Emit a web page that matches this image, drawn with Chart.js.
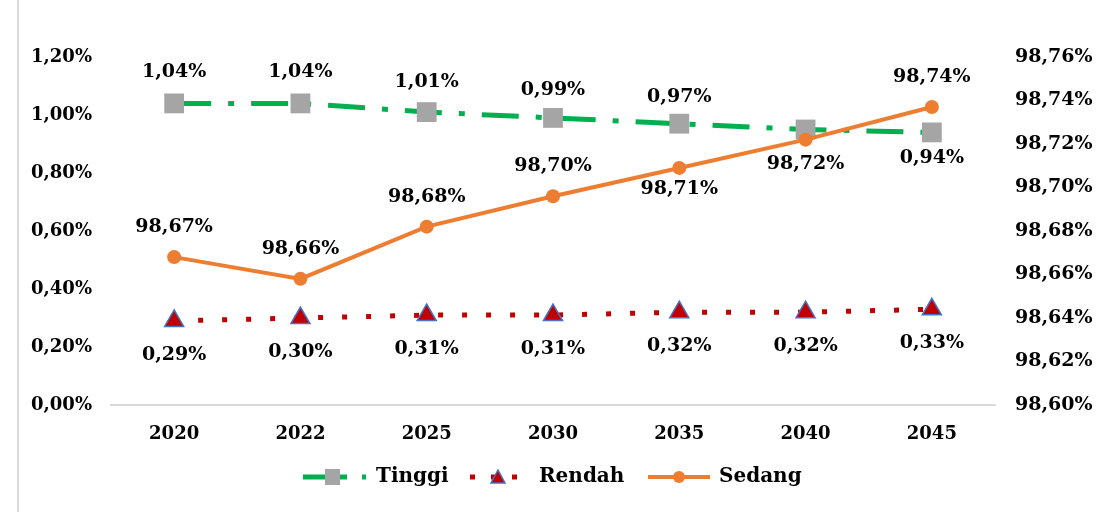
<!DOCTYPE html>
<html>
<head>
<meta charset="utf-8">
<script src="https://cdn.jsdelivr.net/npm/chart.js@4.4.1/dist/chart.umd.min.js"></script>
<style>
  html, body { margin: 0; padding: 0; background: #fff; }
  #wrap { position: relative; width: 1104px; height: 512px; }
  #wrap:before { content: ""; position: absolute; left: 17px; top: 0; bottom: 0; border-left: 2px solid #d9d9d9; }
</style>
</head>
<body>
<div id="wrap"><canvas id="grafik" width="1104" height="512"></canvas></div>
<script>
var TAHUN = ['2020', '2022', '2025', '2030', '2035', '2040', '2045'];
var TINGGI = [1.04, 1.04, 1.01, 0.99, 0.97, 0.95, 0.94];
var RENDAH = [0.29, 0.30, 0.31, 0.31, 0.32, 0.32, 0.33];
var SEDANG = [98.668, 98.658, 98.682, 98.696, 98.709, 98.722, 98.737];
var LABEL_TINGGI = ['1,04%', '1,04%', '1,01%', '0,99%', '0,97%', '', '0,94%'];
var LABEL_RENDAH = ['0,29%', '0,30%', '0,31%', '0,31%', '0,32%', '0,32%', '0,33%'];
var LABEL_SEDANG = ['98,67%', '98,66%', '98,68%', '98,70%', '98,71%', '98,72%', '98,74%'];
var TICK_KIRI = [0, 1.2, 0.2];
var TICK_KANAN = [98.60, 98.76, 0.02];

var Warna = { hijau: '#00b050', abu: '#a5a5a5', merah: '#c00000', biru: '#4472c4', oranye: '#ed7d31' };
var FONT = '"DejaVu Serif", Georgia, serif';

// jarak label dari titik: positif = di atas, negatif = di bawah
var posisi = {
    0: [31, 31, 30, 28, 27, 0, -26],
    1: [-34, -34, -34, -34, -34, -34, -34],
    2: [30, 30, 30, 30, -21, -24, 30]
};
var teks = { 0: LABEL_TINGGI, 1: LABEL_RENDAH, 2: LABEL_SEDANG };

var labelPlugin = {
    id: 'labelData',
    afterDatasetsDraw: function (chart) {
        var ctx = chart.ctx;
        ctx.save();
        ctx.font = 'bold 19px ' + FONT;
        ctx.fillStyle = '#000';
        ctx.textAlign = 'center';
        ctx.textBaseline = 'middle';
        [0, 1, 2].forEach(function (i) {
            var meta = chart.getDatasetMeta(i);
            meta.data.forEach(function (pt, j) {
                var t = teks[i][j];
                if (!t) return;
                ctx.fillText(t, pt.x, pt.y - posisi[i][j]);
            });
        });
        ctx.restore();
    }
};

var legendPlugin = {
    id: 'legendaBawah',
    afterDraw: function (chart) {
        var ctx = chart.ctx;
        var y = 477;
        ctx.save();
        // Tinggi
        ctx.fillStyle = Warna.hijau;
        ctx.fillRect(303, y - 2.5, 44, 5);
        ctx.fillRect(362, y - 2.5, 4, 5);
        ctx.fillStyle = Warna.abu; ctx.fillRect(325, y - 8, 15, 16);
        // Rendah
        ctx.fillStyle = Warna.merah;
        ctx.fillRect(470, y - 2.5, 5, 5);
        ctx.fillRect(491, y - 2.5, 6, 5);
        ctx.fillRect(512, y - 2.5, 5, 5);
        ctx.strokeStyle = Warna.biru; ctx.lineWidth = 1.5;
        ctx.beginPath(); ctx.moveTo(498, y - 7); ctx.lineTo(505, y + 6); ctx.lineTo(491, y + 6); ctx.closePath();
        ctx.fill(); ctx.stroke();
        // Sedang
        ctx.strokeStyle = Warna.oranye; ctx.lineWidth = 4;
        ctx.beginPath(); ctx.moveTo(648, y); ctx.lineTo(710, y); ctx.stroke();
        ctx.fillStyle = Warna.oranye;
        ctx.beginPath(); ctx.arc(679, y, 6, 0, Math.PI * 2); ctx.fill();
        ctx.font = 'bold 20px ' + FONT;
        ctx.fillStyle = '#000';
        ctx.textBaseline = 'middle';
        ctx.fillText('Tinggi', 376, y);
        ctx.fillText('Rendah', 539, y);
        ctx.fillText('Sedang', 719, y);
        ctx.restore();
    }
};

var persen = function (v) { return v.toFixed(2).replace('.', ',') + '%'; };

var ctx = document.getElementById('grafik').getContext('2d');
window.Grafik = new Chart(ctx, {
    type: 'line',
    data: {
        labels: TAHUN,
        datasets: [{
            label: 'Tinggi',
            data: TINGGI,
            yAxisID: 'y',
            borderColor: Warna.hijau,
            borderWidth: 5,
            borderDash: [37, 17, 6, 17],
            pointStyle: 'rect',
            pointRadius: 14,
            pointBackgroundColor: Warna.abu,
            pointBorderColor: Warna.abu,
            pointBorderWidth: 0,
            order: 3
        },
        {
            label: 'Rendah',
            data: RENDAH,
            yAxisID: 'y',
            borderColor: Warna.merah,
            borderWidth: 5,
            borderDash: [5, 19],
            pointStyle: 'triangle',
            pointRadius: 11,
            pointBackgroundColor: Warna.merah,
            pointBorderColor: Warna.biru,
            pointBorderWidth: 1.5,
            order: 2
        },
        {
            label: 'Sedang',
            data: SEDANG,
            yAxisID: 'y1',
            borderColor: Warna.oranye,
            borderWidth: 4,
            pointStyle: 'circle',
            pointRadius: 7,
            pointBorderWidth: 0,
            pointBackgroundColor: Warna.oranye,
            pointBorderColor: Warna.oranye,
            order: 1
        }]
    },
    options: {
        responsive: false,
        animation: false,
        layout: { padding: { top: 57, left: 0, right: 0, bottom: 0 } },
        plugins: { legend: { display: false }, tooltip: { enabled: false } },
        scales: {
            x: {
                offset: true,
                grid: { display: false, drawTicks: false },
                border: { color: '#d9d9d9', width: 2 },
                ticks: { color: '#000', padding: 19, font: { family: FONT, weight: 'bold', size: 18 } },
                afterFit: function (s) { s.height = 107; }
            },
            y: {
                position: 'left',
                min: TICK_KIRI[0], max: TICK_KIRI[1],
                grid: { display: false, drawTicks: false },
                border: { display: false },
                ticks: { stepSize: TICK_KIRI[2], color: '#000', padding: 19, callback: persen,
                         font: { family: FONT, weight: 'bold', size: 18 } },
                afterFit: function (s) { s.width = 111; }
            },
            y1: {
                position: 'right',
                min: TICK_KANAN[0], max: TICK_KANAN[1],
                grid: { display: false, drawTicks: false },
                border: { display: false },
                ticks: { stepSize: TICK_KANAN[2], color: '#000', padding: 20, callback: persen,
                         font: { family: FONT, weight: 'bold', size: 19 } },
                afterFit: function (s) { s.width = 109; }
            }
        }
    },
    plugins: [labelPlugin, legendPlugin]
});
</script>
</body>
</html>
